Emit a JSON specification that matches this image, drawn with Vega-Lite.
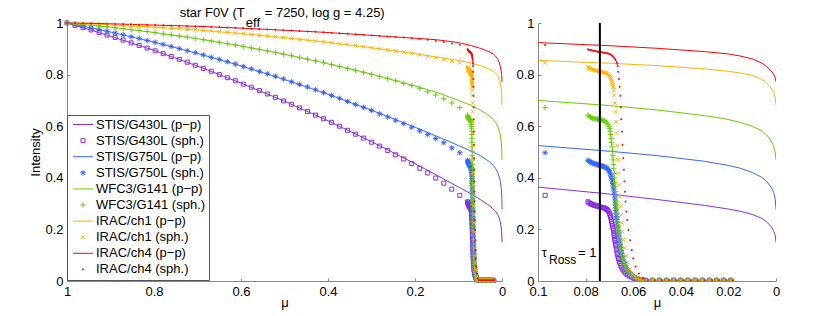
{
  "$schema": "https://vega.github.io/schema/vega-lite/v6.json",
  "background": "white",
  "padding": {"left": 29, "top": 7, "right": 5, "bottom": 5},
  "bounds": "flush",
  "spacing": 36,
  "resolve": {"scale": {"color": "independent", "shape": "independent"}},
  "config": {
    "font": "Liberation Sans",
    "view": {"stroke": null},
    "axis": {
      "domainColor": "#888888", "tickColor": "#888888", "tickSize": -3, "labelPadding": 7,
      "labelFont": "Liberation Sans", "labelFontSize": 13, "labelColor": "black",
      "titleFont": "Liberation Sans", "titleFontSize": 13, "titleFontWeight": "normal", "titleColor": "black",
      "grid": false, "labelFlush": false, "labelOverlap": false, "domainWidth": 1, "tickWidth": 1, "titlePadding": 2
    },
    "legend": {
      "symbolSize": 625, "symbolStrokeWidth": 1, "labelFont": "Liberation Sans", "labelFontSize": 13, "labelColor": "black",
      "strokeColor": "#555555", "fillColor": "white", "padding": 3, "rowPadding": 2.1, "clipHeight": 13, "labelOffset": 0, "offset": 0, "symbolOpacity": 1
    }
  },
  "datasets": {
    "pp": [
      {"s":"a","m":1,"i":1},{"s":"a","m":0.95,"i":0.975},{"s":"a","m":0.9,"i":0.949},{"s":"a","m":0.8,"i":0.894},{"s":"a","m":0.7,"i":0.833},{"s":"a","m":0.6,"i":0.767},{"s":"a","m":0.5,"i":0.697},{"s":"a","m":0.4,"i":0.621},{"s":"a","m":0.3,"i":0.54},{"s":"a","m":0.2,"i":0.455},{"s":"a","m":0.15,"i":0.41},{"s":"a","m":0.1,"i":0.364},{"s":"a","m":0.07,"i":0.337},{"s":"a","m":0.05,"i":0.316},{"s":"a","m":0.03,"i":0.293},{"s":"a","m":0.02,"i":0.279},{"s":"a","m":0.015,"i":0.27},{"s":"a","m":0.01,"i":0.258},{"s":"a","m":0.006,"i":0.243},{"s":"a","m":0.004,"i":0.23},{"s":"a","m":0.002,"i":0.21},{"s":"a","m":0.001,"i":0.195},{"s":"a","m":0.0003,"i":0.175},{"s":"a","m":0,"i":0.15},
      {"s":"c","m":1,"i":1},{"s":"c","m":0.95,"i":0.983},{"s":"c","m":0.9,"i":0.965},{"s":"c","m":0.8,"i":0.926},{"s":"c","m":0.7,"i":0.882},{"s":"c","m":0.6,"i":0.834},{"s":"c","m":0.5,"i":0.781},{"s":"c","m":0.4,"i":0.724},{"s":"c","m":0.3,"i":0.662},{"s":"c","m":0.2,"i":0.596},{"s":"c","m":0.15,"i":0.561},{"s":"c","m":0.1,"i":0.525},{"s":"c","m":0.07,"i":0.503},{"s":"c","m":0.05,"i":0.486},{"s":"c","m":0.03,"i":0.464},{"s":"c","m":0.02,"i":0.448},{"s":"c","m":0.015,"i":0.437},{"s":"c","m":0.01,"i":0.421},{"s":"c","m":0.006,"i":0.402},{"s":"c","m":0.004,"i":0.387},{"s":"c","m":0.002,"i":0.363},{"s":"c","m":0.001,"i":0.344},{"s":"c","m":0.0003,"i":0.315},{"s":"c","m":0,"i":0.277},
      {"s":"e","m":1,"i":1},{"s":"e","m":0.95,"i":0.992},{"s":"e","m":0.9,"i":0.984},{"s":"e","m":0.8,"i":0.963},{"s":"e","m":0.7,"i":0.939},{"s":"e","m":0.6,"i":0.911},{"s":"e","m":0.5,"i":0.879},{"s":"e","m":0.4,"i":0.842},{"s":"e","m":0.3,"i":0.802},{"s":"e","m":0.2,"i":0.756},{"s":"e","m":0.15,"i":0.731},{"s":"e","m":0.1,"i":0.7},{"s":"e","m":0.07,"i":0.68},{"s":"e","m":0.05,"i":0.663},{"s":"e","m":0.03,"i":0.641},{"s":"e","m":0.02,"i":0.626},{"s":"e","m":0.015,"i":0.615},{"s":"e","m":0.01,"i":0.6},{"s":"e","m":0.006,"i":0.582},{"s":"e","m":0.004,"i":0.567},{"s":"e","m":0.002,"i":0.543},{"s":"e","m":0.001,"i":0.523},{"s":"e","m":0.0003,"i":0.497},{"s":"e","m":0,"i":0.47},
      {"s":"g","m":1,"i":1},{"s":"g","m":0.95,"i":0.997},{"s":"g","m":0.9,"i":0.993},{"s":"g","m":0.8,"i":0.984},{"s":"g","m":0.7,"i":0.973},{"s":"g","m":0.6,"i":0.959},{"s":"g","m":0.5,"i":0.943},{"s":"g","m":0.4,"i":0.925},{"s":"g","m":0.3,"i":0.904},{"s":"g","m":0.2,"i":0.881},{"s":"g","m":0.15,"i":0.868},{"s":"g","m":0.1,"i":0.855},{"s":"g","m":0.07,"i":0.844},{"s":"g","m":0.05,"i":0.835},{"s":"g","m":0.03,"i":0.822},{"s":"g","m":0.02,"i":0.813},{"s":"g","m":0.015,"i":0.806},{"s":"g","m":0.01,"i":0.797},{"s":"g","m":0.006,"i":0.782},{"s":"g","m":0.004,"i":0.768},{"s":"g","m":0.002,"i":0.748},{"s":"g","m":0.001,"i":0.732},{"s":"g","m":0.0003,"i":0.71},{"s":"g","m":0,"i":0.683},
      {"s":"i","m":1,"i":1},{"s":"i","m":0.95,"i":0.999},{"s":"i","m":0.9,"i":0.997},{"s":"i","m":0.8,"i":0.992},{"s":"i","m":0.7,"i":0.987},{"s":"i","m":0.6,"i":0.98},{"s":"i","m":0.5,"i":0.972},{"s":"i","m":0.4,"i":0.963},{"s":"i","m":0.3,"i":0.952},{"s":"i","m":0.2,"i":0.941},{"s":"i","m":0.15,"i":0.935},{"s":"i","m":0.1,"i":0.924},{"s":"i","m":0.07,"i":0.912},{"s":"i","m":0.05,"i":0.902},{"s":"i","m":0.03,"i":0.889},{"s":"i","m":0.02,"i":0.88},{"s":"i","m":0.015,"i":0.872},{"s":"i","m":0.01,"i":0.861},{"s":"i","m":0.006,"i":0.845},{"s":"i","m":0.004,"i":0.832},{"s":"i","m":0.002,"i":0.814},{"s":"i","m":0.001,"i":0.801},{"s":"i","m":0.0003,"i":0.787},{"s":"i","m":0,"i":0.772}
    ],
    "sph": [
      {"s":"b","m":1,"i":1},{"s":"b","m":0.9816,"i":0.991},{"s":"b","m":0.9631,"i":0.982},{"s":"b","m":0.9447,"i":0.973},{"s":"b","m":0.9263,"i":0.963},{"s":"b","m":0.9079,"i":0.953},{"s":"b","m":0.8894,"i":0.944},{"s":"b","m":0.871,"i":0.934},{"s":"b","m":0.8526,"i":0.923},{"s":"b","m":0.8341,"i":0.913},{"s":"b","m":0.8157,"i":0.903},{"s":"b","m":0.7973,"i":0.892},{"s":"b","m":0.7789,"i":0.881},{"s":"b","m":0.7604,"i":0.87},{"s":"b","m":0.742,"i":0.859},{"s":"b","m":0.7236,"i":0.848},{"s":"b","m":0.7051,"i":0.836},{"s":"b","m":0.6867,"i":0.824},{"s":"b","m":0.6683,"i":0.813},{"s":"b","m":0.6498,"i":0.8},{"s":"b","m":0.6314,"i":0.788},{"s":"b","m":0.613,"i":0.776},{"s":"b","m":0.5946,"i":0.763},{"s":"b","m":0.5761,"i":0.751},{"s":"b","m":0.5577,"i":0.738},{"s":"b","m":0.5393,"i":0.725},{"s":"b","m":0.5208,"i":0.712},{"s":"b","m":0.5024,"i":0.698},{"s":"b","m":0.484,"i":0.685},{"s":"b","m":0.4656,"i":0.671},{"s":"b","m":0.4471,"i":0.657},{"s":"b","m":0.4287,"i":0.643},{"s":"b","m":0.4103,"i":0.629},{"s":"b","m":0.3918,"i":0.615},{"s":"b","m":0.3734,"i":0.6},{"s":"b","m":0.355,"i":0.584},{"s":"b","m":0.3366,"i":0.569},{"s":"b","m":0.3181,"i":0.554},{"s":"b","m":0.2997,"i":0.538},{"s":"b","m":0.2813,"i":0.523},{"s":"b","m":0.2628,"i":0.506},{"s":"b","m":0.2444,"i":0.489},{"s":"b","m":0.226,"i":0.473},{"s":"b","m":0.2075,"i":0.455},{"s":"b","m":0.1891,"i":0.437},{"s":"b","m":0.1707,"i":0.419},{"s":"b","m":0.1523,"i":0.399},{"s":"b","m":0.1338,"i":0.379},{"s":"b","m":0.1154,"i":0.356},{"s":"b","m":0.097,"i":0.332},
      {"s":"b","m":0.079,"i":0.307},{"s":"b","m":0.0785,"i":0.303},{"s":"b","m":0.078,"i":0.3},{"s":"b","m":0.0775,"i":0.298},{"s":"b","m":0.077,"i":0.296},{"s":"b","m":0.0765,"i":0.294},{"s":"b","m":0.076,"i":0.293},{"s":"b","m":0.0755,"i":0.291},{"s":"b","m":0.075,"i":0.29},{"s":"b","m":0.0745,"i":0.289},{"s":"b","m":0.074,"i":0.287},{"s":"b","m":0.0735,"i":0.286},{"s":"b","m":0.073,"i":0.285},{"s":"b","m":0.0725,"i":0.284},{"s":"b","m":0.072,"i":0.282},{"s":"b","m":0.0715,"i":0.28},{"s":"b","m":0.071,"i":0.277},{"s":"b","m":0.0706,"i":0.273},{"s":"b","m":0.0702,"i":0.268},{"s":"b","m":0.0699,"i":0.262},{"s":"b","m":0.0697,"i":0.255},{"s":"b","m":0.0695,"i":0.248},{"s":"b","m":0.0693,"i":0.24},{"s":"b","m":0.0691,"i":0.231},{"s":"b","m":0.0689,"i":0.222},{"s":"b","m":0.0687,"i":0.213},{"s":"b","m":0.0685,"i":0.204},{"s":"b","m":0.0683,"i":0.195},{"s":"b","m":0.0681,"i":0.185},{"s":"b","m":0.068,"i":0.176},{"s":"b","m":0.0678,"i":0.166},{"s":"b","m":0.0677,"i":0.157},{"s":"b","m":0.0675,"i":0.147},{"s":"b","m":0.0673,"i":0.137},{"s":"b","m":0.0671,"i":0.127},{"s":"b","m":0.0669,"i":0.117},{"s":"b","m":0.0667,"i":0.107},{"s":"b","m":0.0665,"i":0.097},{"s":"b","m":0.0662,"i":0.087},{"s":"b","m":0.0659,"i":0.077},{"s":"b","m":0.0656,"i":0.068},{"s":"b","m":0.0652,"i":0.059},{"s":"b","m":0.0648,"i":0.051},{"s":"b","m":0.0643,"i":0.043},{"s":"b","m":0.0637,"i":0.036},{"s":"b","m":0.0631,"i":0.03},{"s":"b","m":0.0624,"i":0.024},{"s":"b","m":0.0616,"i":0.019},{"s":"b","m":0.0607,"i":0.015},{"s":"b","m":0.0597,"i":0.011},{"s":"b","m":0.0586,"i":0.008},{"s":"b","m":0.0574,"i":0.006},{"s":"b","m":0.0561,"i":0.004},{"s":"b","m":0.0547,"i":0.003},
      {"s":"b","m":0.052,"i":0.003},{"s":"b","m":0.049,"i":0.003},{"s":"b","m":0.046,"i":0.003},{"s":"b","m":0.043,"i":0.003},{"s":"b","m":0.04,"i":0.003},{"s":"b","m":0.037,"i":0.003},{"s":"b","m":0.034,"i":0.003},{"s":"b","m":0.031,"i":0.003},{"s":"b","m":0.028,"i":0.003},{"s":"b","m":0.025,"i":0.003},{"s":"b","m":0.022,"i":0.003},{"s":"b","m":0.019,"i":0.003},
      {"s":"d","m":1,"i":1},{"s":"d","m":0.9816,"i":0.994},{"s":"d","m":0.9631,"i":0.988},{"s":"d","m":0.9447,"i":0.981},{"s":"d","m":0.9263,"i":0.975},{"s":"d","m":0.9079,"i":0.968},{"s":"d","m":0.8894,"i":0.961},{"s":"d","m":0.871,"i":0.954},{"s":"d","m":0.8526,"i":0.947},{"s":"d","m":0.8341,"i":0.94},{"s":"d","m":0.8157,"i":0.932},{"s":"d","m":0.7973,"i":0.925},{"s":"d","m":0.7789,"i":0.917},{"s":"d","m":0.7604,"i":0.909},{"s":"d","m":0.742,"i":0.901},{"s":"d","m":0.7236,"i":0.893},{"s":"d","m":0.7051,"i":0.885},{"s":"d","m":0.6867,"i":0.876},{"s":"d","m":0.6683,"i":0.867},{"s":"d","m":0.6498,"i":0.859},{"s":"d","m":0.6314,"i":0.85},{"s":"d","m":0.613,"i":0.841},{"s":"d","m":0.5946,"i":0.831},{"s":"d","m":0.5761,"i":0.822},{"s":"d","m":0.5577,"i":0.812},{"s":"d","m":0.5393,"i":0.803},{"s":"d","m":0.5208,"i":0.793},{"s":"d","m":0.5024,"i":0.783},{"s":"d","m":0.484,"i":0.772},{"s":"d","m":0.4656,"i":0.762},{"s":"d","m":0.4471,"i":0.752},{"s":"d","m":0.4287,"i":0.741},{"s":"d","m":0.4103,"i":0.73},{"s":"d","m":0.3918,"i":0.719},{"s":"d","m":0.3734,"i":0.708},{"s":"d","m":0.355,"i":0.696},{"s":"d","m":0.3366,"i":0.684},{"s":"d","m":0.3181,"i":0.673},{"s":"d","m":0.2997,"i":0.661},{"s":"d","m":0.2813,"i":0.648},{"s":"d","m":0.2628,"i":0.636},{"s":"d","m":0.2444,"i":0.623},{"s":"d","m":0.226,"i":0.61},{"s":"d","m":0.2075,"i":0.596},{"s":"d","m":0.1891,"i":0.582},{"s":"d","m":0.1707,"i":0.568},{"s":"d","m":0.1523,"i":0.552},{"s":"d","m":0.1338,"i":0.536},{"s":"d","m":0.1154,"i":0.516},{"s":"d","m":0.097,"i":0.497},
      {"s":"d","m":0.079,"i":0.468},{"s":"d","m":0.0785,"i":0.464},{"s":"d","m":0.078,"i":0.461},{"s":"d","m":0.0775,"i":0.459},{"s":"d","m":0.077,"i":0.457},{"s":"d","m":0.0765,"i":0.455},{"s":"d","m":0.076,"i":0.454},{"s":"d","m":0.0755,"i":0.452},{"s":"d","m":0.075,"i":0.451},{"s":"d","m":0.0745,"i":0.449},{"s":"d","m":0.074,"i":0.448},{"s":"d","m":0.0735,"i":0.447},{"s":"d","m":0.073,"i":0.445},{"s":"d","m":0.0725,"i":0.444},{"s":"d","m":0.072,"i":0.442},{"s":"d","m":0.0715,"i":0.44},{"s":"d","m":0.071,"i":0.437},{"s":"d","m":0.0706,"i":0.433},{"s":"d","m":0.0702,"i":0.428},{"s":"d","m":0.0699,"i":0.422},{"s":"d","m":0.0696,"i":0.415},{"s":"d","m":0.0693,"i":0.406},{"s":"d","m":0.069,"i":0.397},{"s":"d","m":0.0688,"i":0.388},{"s":"d","m":0.0686,"i":0.378},{"s":"d","m":0.0684,"i":0.368},{"s":"d","m":0.0682,"i":0.357},{"s":"d","m":0.068,"i":0.346},{"s":"d","m":0.0678,"i":0.334},{"s":"d","m":0.0677,"i":0.322},{"s":"d","m":0.0676,"i":0.31},{"s":"d","m":0.0675,"i":0.298},{"s":"d","m":0.0674,"i":0.286},{"s":"d","m":0.0673,"i":0.274},{"s":"d","m":0.0672,"i":0.262},{"s":"d","m":0.067,"i":0.25},{"s":"d","m":0.0669,"i":0.238},{"s":"d","m":0.0667,"i":0.226},{"s":"d","m":0.0666,"i":0.214},{"s":"d","m":0.0664,"i":0.202},{"s":"d","m":0.0662,"i":0.19},{"s":"d","m":0.0661,"i":0.178},{"s":"d","m":0.0659,"i":0.166},{"s":"d","m":0.0657,"i":0.154},{"s":"d","m":0.0655,"i":0.142},{"s":"d","m":0.0653,"i":0.13},{"s":"d","m":0.0651,"i":0.118},{"s":"d","m":0.0648,"i":0.106},{"s":"d","m":0.0645,"i":0.094},{"s":"d","m":0.0642,"i":0.082},{"s":"d","m":0.0638,"i":0.071},{"s":"d","m":0.0634,"i":0.061},{"s":"d","m":0.0629,"i":0.052},{"s":"d","m":0.0623,"i":0.043},{"s":"d","m":0.0617,"i":0.035},{"s":"d","m":0.061,"i":0.028},{"s":"d","m":0.0602,"i":0.021},{"s":"d","m":0.0594,"i":0.016},{"s":"d","m":0.0585,"i":0.011},{"s":"d","m":0.0575,"i":0.007},{"s":"d","m":0.0564,"i":0.005},{"s":"d","m":0.0552,"i":0.003},
      {"s":"d","m":0.052,"i":0.003},{"s":"d","m":0.049,"i":0.003},{"s":"d","m":0.046,"i":0.003},{"s":"d","m":0.043,"i":0.003},{"s":"d","m":0.04,"i":0.003},{"s":"d","m":0.037,"i":0.003},{"s":"d","m":0.034,"i":0.003},{"s":"d","m":0.031,"i":0.003},{"s":"d","m":0.028,"i":0.003},{"s":"d","m":0.025,"i":0.003},{"s":"d","m":0.022,"i":0.003},{"s":"d","m":0.019,"i":0.003},
      {"s":"f","m":1,"i":1},{"s":"f","m":0.9816,"i":0.997},{"s":"f","m":0.9631,"i":0.994},{"s":"f","m":0.9447,"i":0.991},{"s":"f","m":0.9263,"i":0.988},{"s":"f","m":0.9079,"i":0.985},{"s":"f","m":0.8894,"i":0.982},{"s":"f","m":0.871,"i":0.978},{"s":"f","m":0.8526,"i":0.974},{"s":"f","m":0.8341,"i":0.971},{"s":"f","m":0.8157,"i":0.967},{"s":"f","m":0.7973,"i":0.963},{"s":"f","m":0.7789,"i":0.958},{"s":"f","m":0.7604,"i":0.954},{"s":"f","m":0.742,"i":0.95},{"s":"f","m":0.7236,"i":0.945},{"s":"f","m":0.7051,"i":0.94},{"s":"f","m":0.6867,"i":0.935},{"s":"f","m":0.6683,"i":0.93},{"s":"f","m":0.6498,"i":0.925},{"s":"f","m":0.6314,"i":0.92},{"s":"f","m":0.613,"i":0.915},{"s":"f","m":0.5946,"i":0.909},{"s":"f","m":0.5761,"i":0.903},{"s":"f","m":0.5577,"i":0.898},{"s":"f","m":0.5393,"i":0.892},{"s":"f","m":0.5208,"i":0.886},{"s":"f","m":0.5024,"i":0.879},{"s":"f","m":0.484,"i":0.873},{"s":"f","m":0.4656,"i":0.867},{"s":"f","m":0.4471,"i":0.86},{"s":"f","m":0.4287,"i":0.853},{"s":"f","m":0.4103,"i":0.846},{"s":"f","m":0.3918,"i":0.839},{"s":"f","m":0.3734,"i":0.832},{"s":"f","m":0.355,"i":0.824},{"s":"f","m":0.3366,"i":0.817},{"s":"f","m":0.3181,"i":0.809},{"s":"f","m":0.2997,"i":0.801},{"s":"f","m":0.2813,"i":0.793},{"s":"f","m":0.2628,"i":0.785},{"s":"f","m":0.2444,"i":0.776},{"s":"f","m":0.226,"i":0.766},{"s":"f","m":0.2075,"i":0.757},{"s":"f","m":0.1891,"i":0.747},{"s":"f","m":0.1707,"i":0.733},{"s":"f","m":0.1523,"i":0.721},{"s":"f","m":0.1338,"i":0.706},{"s":"f","m":0.1154,"i":0.69},{"s":"f","m":0.097,"i":0.672},
      {"s":"f","m":0.079,"i":0.643},{"s":"f","m":0.0785,"i":0.638},{"s":"f","m":0.078,"i":0.635},{"s":"f","m":0.0775,"i":0.633},{"s":"f","m":0.077,"i":0.631},{"s":"f","m":0.0765,"i":0.63},{"s":"f","m":0.076,"i":0.629},{"s":"f","m":0.0755,"i":0.628},{"s":"f","m":0.075,"i":0.627},{"s":"f","m":0.0745,"i":0.626},{"s":"f","m":0.074,"i":0.625},{"s":"f","m":0.0735,"i":0.624},{"s":"f","m":0.073,"i":0.623},{"s":"f","m":0.0725,"i":0.622},{"s":"f","m":0.072,"i":0.62},{"s":"f","m":0.0715,"i":0.617},{"s":"f","m":0.071,"i":0.613},{"s":"f","m":0.0706,"i":0.607},{"s":"f","m":0.0702,"i":0.599},{"s":"f","m":0.0699,"i":0.59},{"s":"f","m":0.0697,"i":0.58},{"s":"f","m":0.0695,"i":0.568},{"s":"f","m":0.0693,"i":0.553},{"s":"f","m":0.0691,"i":0.537},{"s":"f","m":0.0689,"i":0.52},{"s":"f","m":0.0687,"i":0.503},{"s":"f","m":0.0686,"i":0.486},{"s":"f","m":0.0684,"i":0.469},{"s":"f","m":0.0683,"i":0.452},{"s":"f","m":0.0682,"i":0.435},{"s":"f","m":0.068,"i":0.417},{"s":"f","m":0.0679,"i":0.4},{"s":"f","m":0.0678,"i":0.382},{"s":"f","m":0.0676,"i":0.365},{"s":"f","m":0.0675,"i":0.347},{"s":"f","m":0.0674,"i":0.33},{"s":"f","m":0.0673,"i":0.313},{"s":"f","m":0.0671,"i":0.296},{"s":"f","m":0.067,"i":0.279},{"s":"f","m":0.0668,"i":0.262},{"s":"f","m":0.0667,"i":0.245},{"s":"f","m":0.0665,"i":0.228},{"s":"f","m":0.0664,"i":0.211},{"s":"f","m":0.0662,"i":0.194},{"s":"f","m":0.066,"i":0.177},{"s":"f","m":0.0658,"i":0.16},{"s":"f","m":0.0656,"i":0.144},{"s":"f","m":0.0654,"i":0.128},{"s":"f","m":0.0651,"i":0.113},{"s":"f","m":0.0648,"i":0.099},{"s":"f","m":0.0645,"i":0.086},{"s":"f","m":0.0641,"i":0.074},{"s":"f","m":0.0637,"i":0.063},{"s":"f","m":0.0632,"i":0.053},{"s":"f","m":0.0627,"i":0.044},{"s":"f","m":0.0621,"i":0.036},{"s":"f","m":0.0614,"i":0.029},{"s":"f","m":0.0606,"i":0.022},{"s":"f","m":0.0598,"i":0.016},{"s":"f","m":0.0589,"i":0.011},{"s":"f","m":0.0579,"i":0.007},{"s":"f","m":0.0568,"i":0.004},{"s":"f","m":0.0556,"i":0.003},
      {"s":"f","m":0.052,"i":0.003},{"s":"f","m":0.049,"i":0.003},{"s":"f","m":0.046,"i":0.003},{"s":"f","m":0.043,"i":0.003},{"s":"f","m":0.04,"i":0.003},{"s":"f","m":0.037,"i":0.003},{"s":"f","m":0.034,"i":0.003},{"s":"f","m":0.031,"i":0.003},{"s":"f","m":0.028,"i":0.003},{"s":"f","m":0.025,"i":0.003},{"s":"f","m":0.022,"i":0.003},{"s":"f","m":0.019,"i":0.003},
      {"s":"h","m":1,"i":1},{"s":"h","m":0.9816,"i":0.999},{"s":"h","m":0.9631,"i":0.998},{"s":"h","m":0.9447,"i":0.997},{"s":"h","m":0.9263,"i":0.995},{"s":"h","m":0.9079,"i":0.994},{"s":"h","m":0.8894,"i":0.993},{"s":"h","m":0.871,"i":0.991},{"s":"h","m":0.8526,"i":0.989},{"s":"h","m":0.8341,"i":0.988},{"s":"h","m":0.8157,"i":0.986},{"s":"h","m":0.7973,"i":0.984},{"s":"h","m":0.7789,"i":0.982},{"s":"h","m":0.7604,"i":0.98},{"s":"h","m":0.742,"i":0.978},{"s":"h","m":0.7236,"i":0.976},{"s":"h","m":0.7051,"i":0.974},{"s":"h","m":0.6867,"i":0.971},{"s":"h","m":0.6683,"i":0.969},{"s":"h","m":0.6498,"i":0.966},{"s":"h","m":0.6314,"i":0.964},{"s":"h","m":0.613,"i":0.961},{"s":"h","m":0.5946,"i":0.959},{"s":"h","m":0.5761,"i":0.956},{"s":"h","m":0.5577,"i":0.953},{"s":"h","m":0.5393,"i":0.95},{"s":"h","m":0.5208,"i":0.947},{"s":"h","m":0.5024,"i":0.944},{"s":"h","m":0.484,"i":0.94},{"s":"h","m":0.4656,"i":0.937},{"s":"h","m":0.4471,"i":0.934},{"s":"h","m":0.4287,"i":0.93},{"s":"h","m":0.4103,"i":0.927},{"s":"h","m":0.3918,"i":0.923},{"s":"h","m":0.3734,"i":0.919},{"s":"h","m":0.355,"i":0.916},{"s":"h","m":0.3366,"i":0.912},{"s":"h","m":0.3181,"i":0.908},{"s":"h","m":0.2997,"i":0.904},{"s":"h","m":0.2813,"i":0.9},{"s":"h","m":0.2628,"i":0.896},{"s":"h","m":0.2444,"i":0.891},{"s":"h","m":0.226,"i":0.887},{"s":"h","m":0.2075,"i":0.882},{"s":"h","m":0.1891,"i":0.877},{"s":"h","m":0.1707,"i":0.871},{"s":"h","m":0.1523,"i":0.865},{"s":"h","m":0.1338,"i":0.859},{"s":"h","m":0.1154,"i":0.852},{"s":"h","m":0.097,"i":0.846},
      {"s":"h","m":0.079,"i":0.83},{"s":"h","m":0.0785,"i":0.826},{"s":"h","m":0.078,"i":0.823},{"s":"h","m":0.0775,"i":0.821},{"s":"h","m":0.077,"i":0.819},{"s":"h","m":0.0765,"i":0.818},{"s":"h","m":0.076,"i":0.817},{"s":"h","m":0.0755,"i":0.815},{"s":"h","m":0.075,"i":0.814},{"s":"h","m":0.0745,"i":0.813},{"s":"h","m":0.074,"i":0.812},{"s":"h","m":0.0735,"i":0.811},{"s":"h","m":0.073,"i":0.81},{"s":"h","m":0.0725,"i":0.809},{"s":"h","m":0.072,"i":0.808},{"s":"h","m":0.0715,"i":0.806},{"s":"h","m":0.071,"i":0.804},{"s":"h","m":0.0706,"i":0.801},{"s":"h","m":0.0702,"i":0.797},{"s":"h","m":0.0699,"i":0.793},{"s":"h","m":0.0696,"i":0.788},{"s":"h","m":0.0693,"i":0.782},{"s":"h","m":0.069,"i":0.775},{"s":"h","m":0.0688,"i":0.768},{"s":"h","m":0.0686,"i":0.76},{"s":"h","m":0.0684,"i":0.752},{"s":"h","m":0.0682,"i":0.74},{"s":"h","m":0.068,"i":0.72},{"s":"h","m":0.0677,"i":0.69},{"s":"h","m":0.0674,"i":0.656},{"s":"h","m":0.0672,"i":0.617},{"s":"h","m":0.067,"i":0.574},{"s":"h","m":0.0668,"i":0.525},{"s":"h","m":0.0665,"i":0.47},{"s":"h","m":0.0662,"i":0.418},{"s":"h","m":0.0659,"i":0.373},{"s":"h","m":0.0656,"i":0.328},{"s":"h","m":0.0653,"i":0.29},{"s":"h","m":0.065,"i":0.257},{"s":"h","m":0.0648,"i":0.225},{"s":"h","m":0.0645,"i":0.192},{"s":"h","m":0.0641,"i":0.16},{"s":"h","m":0.0636,"i":0.128},{"s":"h","m":0.063,"i":0.097},{"s":"h","m":0.0623,"i":0.071},{"s":"h","m":0.0614,"i":0.045},{"s":"h","m":0.0602,"i":0.026},{"s":"h","m":0.0588,"i":0.013},{"s":"h","m":0.0574,"i":0.006},{"s":"h","m":0.056,"i":0.003},
      {"s":"h","m":0.052,"i":0.003},{"s":"h","m":0.049,"i":0.003},{"s":"h","m":0.046,"i":0.003},{"s":"h","m":0.043,"i":0.003},{"s":"h","m":0.04,"i":0.003},{"s":"h","m":0.037,"i":0.003},{"s":"h","m":0.034,"i":0.003},{"s":"h","m":0.031,"i":0.003},{"s":"h","m":0.028,"i":0.003},{"s":"h","m":0.025,"i":0.003},{"s":"h","m":0.022,"i":0.003},{"s":"h","m":0.019,"i":0.003},
      {"s":"j","m":1,"i":1},{"s":"j","m":0.9816,"i":1},{"s":"j","m":0.9631,"i":0.999},{"s":"j","m":0.9447,"i":0.998},{"s":"j","m":0.9263,"i":0.998},{"s":"j","m":0.9079,"i":0.997},{"s":"j","m":0.8894,"i":0.996},{"s":"j","m":0.871,"i":0.996},{"s":"j","m":0.8526,"i":0.995},{"s":"j","m":0.8341,"i":0.994},{"s":"j","m":0.8157,"i":0.993},{"s":"j","m":0.7973,"i":0.992},{"s":"j","m":0.7789,"i":0.991},{"s":"j","m":0.7604,"i":0.99},{"s":"j","m":0.742,"i":0.989},{"s":"j","m":0.7236,"i":0.988},{"s":"j","m":0.7051,"i":0.987},{"s":"j","m":0.6867,"i":0.986},{"s":"j","m":0.6683,"i":0.985},{"s":"j","m":0.6498,"i":0.984},{"s":"j","m":0.6314,"i":0.982},{"s":"j","m":0.613,"i":0.981},{"s":"j","m":0.5946,"i":0.98},{"s":"j","m":0.5761,"i":0.978},{"s":"j","m":0.5577,"i":0.977},{"s":"j","m":0.5393,"i":0.975},{"s":"j","m":0.5208,"i":0.974},{"s":"j","m":0.5024,"i":0.972},{"s":"j","m":0.484,"i":0.971},{"s":"j","m":0.4656,"i":0.969},{"s":"j","m":0.4471,"i":0.967},{"s":"j","m":0.4287,"i":0.966},{"s":"j","m":0.4103,"i":0.964},{"s":"j","m":0.3918,"i":0.962},{"s":"j","m":0.3734,"i":0.96},{"s":"j","m":0.355,"i":0.958},{"s":"j","m":0.3366,"i":0.956},{"s":"j","m":0.3181,"i":0.954},{"s":"j","m":0.2997,"i":0.952},{"s":"j","m":0.2813,"i":0.95},{"s":"j","m":0.2628,"i":0.948},{"s":"j","m":0.2444,"i":0.946},{"s":"j","m":0.226,"i":0.944},{"s":"j","m":0.2075,"i":0.941},{"s":"j","m":0.1891,"i":0.938},{"s":"j","m":0.1707,"i":0.935},{"s":"j","m":0.1523,"i":0.931},{"s":"j","m":0.1338,"i":0.926},{"s":"j","m":0.1154,"i":0.921},{"s":"j","m":0.097,"i":0.915},
      {"s":"j","m":0.079,"i":0.898},{"s":"j","m":0.0785,"i":0.896},{"s":"j","m":0.078,"i":0.895},{"s":"j","m":0.0775,"i":0.894},{"s":"j","m":0.077,"i":0.893},{"s":"j","m":0.0765,"i":0.892},{"s":"j","m":0.076,"i":0.891},{"s":"j","m":0.0755,"i":0.89},{"s":"j","m":0.075,"i":0.889},{"s":"j","m":0.0745,"i":0.888},{"s":"j","m":0.074,"i":0.888},{"s":"j","m":0.0735,"i":0.887},{"s":"j","m":0.073,"i":0.886},{"s":"j","m":0.0725,"i":0.885},{"s":"j","m":0.072,"i":0.885},{"s":"j","m":0.0715,"i":0.884},{"s":"j","m":0.071,"i":0.883},{"s":"j","m":0.0705,"i":0.882},{"s":"j","m":0.07,"i":0.88},{"s":"j","m":0.0695,"i":0.878},{"s":"j","m":0.069,"i":0.875},{"s":"j","m":0.0686,"i":0.871},{"s":"j","m":0.0682,"i":0.867},{"s":"j","m":0.0678,"i":0.862},{"s":"j","m":0.0674,"i":0.857},{"s":"j","m":0.067,"i":0.849},{"s":"j","m":0.0667,"i":0.842},{"s":"j","m":0.0665,"i":0.833},{"s":"j","m":0.0663,"i":0.811},{"s":"j","m":0.066,"i":0.783},{"s":"j","m":0.0657,"i":0.753},{"s":"j","m":0.0654,"i":0.718},{"s":"j","m":0.0652,"i":0.673},{"s":"j","m":0.065,"i":0.627},{"s":"j","m":0.0647,"i":0.579},{"s":"j","m":0.0645,"i":0.528},{"s":"j","m":0.0642,"i":0.476},{"s":"j","m":0.0639,"i":0.431},{"s":"j","m":0.0637,"i":0.386},{"s":"j","m":0.0634,"i":0.346},{"s":"j","m":0.0632,"i":0.308},{"s":"j","m":0.0629,"i":0.269},{"s":"j","m":0.0625,"i":0.236},{"s":"j","m":0.062,"i":0.198},{"s":"j","m":0.0613,"i":0.158},{"s":"j","m":0.0606,"i":0.12},{"s":"j","m":0.06,"i":0.088},{"s":"j","m":0.059,"i":0.056},{"s":"j","m":0.0576,"i":0.029},{"s":"j","m":0.0558,"i":0.01},{"s":"j","m":0.0537,"i":0.003},
      {"s":"j","m":0.0507,"i":0.003},{"s":"j","m":0.0477,"i":0.003},{"s":"j","m":0.0447,"i":0.003},{"s":"j","m":0.0417,"i":0.003},{"s":"j","m":0.0387,"i":0.003},{"s":"j","m":0.0357,"i":0.003},{"s":"j","m":0.0327,"i":0.003},{"s":"j","m":0.0297,"i":0.003},{"s":"j","m":0.0267,"i":0.003},{"s":"j","m":0.0237,"i":0.003},{"s":"j","m":0.0207,"i":0.003},{"s":"j","m":0.018,"i":0.003}
    ]
  },
  "hconcat": [
    {
      "width": 435,
      "height": 258,
      "layer": [
        {
          "data": {"name": "pp"},
          "mark": {"type": "line", "strokeWidth": 1},
          "encoding": {
            "x": {"field": "m", "type": "quantitative", "scale": {"domain": [0, 1], "reverse": true}, "axis": {"values": [0, 0.2, 0.4, 0.6, 0.8, 1], "format": "~g", "title": "μ", "titlePadding": -2}},
            "y": {"field": "i", "type": "quantitative", "scale": {"domain": [0, 1]}, "axis": {"values": [0, 0.2, 0.4, 0.6, 0.8, 1], "format": "~g", "title": "Intensity"}},
            "color": {"field": "s", "type": "nominal", "scale": {"domain": ["a","b","c","d","e","f","g","h","i","j"], "range": ["#8a2be2","#8a2be2","#3366ff","#3366ff","#66cc00","#66cc00","#ffb000","#ffb000","#ff0000","#ff0000"]},
              "legend": {"orient": "none", "legendX": 0, "legendY": 92, "title": null, "labelExpr": "['STIS/G430L (p−p)','STIS/G430L (sph.)','STIS/G750L (p−p)','STIS/G750L (sph.)','WFC3/G141 (p−p)','WFC3/G141 (sph.)','IRAC/ch1 (p−p)','IRAC/ch1 (sph.)','IRAC/ch4 (p−p)','IRAC/ch4 (sph.)'][indexof(['a','b','c','d','e','f','g','h','i','j'], datum.value)]"}}
          }
        },
        {
          "data": {"name": "sph"},
          "mark": {"type": "point", "filled": false, "size": 625, "strokeWidth": 1, "opacity": 1},
          "encoding": {
            "x": {"field": "m", "type": "quantitative"},
            "y": {"field": "i", "type": "quantitative"},
            "color": {"field": "s", "type": "nominal", "scale": {"domain": ["a","b","c","d","e","f","g","h","i","j"], "range": ["#8a2be2","#8a2be2","#3366ff","#3366ff","#66cc00","#66cc00","#ffb000","#ffb000","#ff0000","#ff0000"]},
              "legend": {"orient": "none", "legendX": 0, "legendY": 92, "title": null, "labelExpr": "['STIS/G430L (p−p)','STIS/G430L (sph.)','STIS/G750L (p−p)','STIS/G750L (sph.)','WFC3/G141 (p−p)','WFC3/G141 (sph.)','IRAC/ch1 (p−p)','IRAC/ch1 (sph.)','IRAC/ch4 (p−p)','IRAC/ch4 (sph.)'][indexof(['a','b','c','d','e','f','g','h','i','j'], datum.value)]"}},
            "shape": {"field": "s", "type": "nominal", "scale": {"domain": ["a","b","c","d","e","f","g","h","i","j"], "range": ["M-0.8,0H0.8","M-0.16,-0.16H0.16V0.16H-0.16Z","M-0.8,0H0.8","M-0.22,0H0.22M0,-0.22V0.22M-0.16,-0.16L0.16,0.16M-0.16,0.16L0.16,-0.16","M-0.8,0H0.8","M-0.22,0H0.22M0,-0.22V0.22","M-0.8,0H0.8","M-0.15,-0.15L0.15,0.15M-0.15,0.15L0.15,-0.15","M-0.8,0H0.8","M-0.04,-0.04H0.04V0.04H-0.04Z"]},
              "legend": {"orient": "none", "legendX": 0, "legendY": 92, "title": null, "labelExpr": "['STIS/G430L (p−p)','STIS/G430L (sph.)','STIS/G750L (p−p)','STIS/G750L (sph.)','WFC3/G141 (p−p)','WFC3/G141 (sph.)','IRAC/ch1 (p−p)','IRAC/ch1 (sph.)','IRAC/ch4 (p−p)','IRAC/ch4 (sph.)'][indexof(['a','b','c','d','e','f','g','h','i','j'], datum.value)]"}}
          }
        },
        {
          "data": {"values": [{}]},
          "mark": {"type": "text", "text": "star F0V (T", "align": "left", "baseline": "alphabetic", "fontSize": 13, "font": "Liberation Sans", "color": "black"},
          "encoding": {"x": {"datum": 0.741}, "y": {"datum": 1.022}}
        },
        {
          "data": {"values": [{}]},
          "mark": {"type": "text", "text": "eff", "align": "left", "baseline": "alphabetic", "fontSize": 13, "font": "Liberation Sans", "color": "black"},
          "encoding": {"x": {"datum": 0.589}, "y": {"datum": 0.986}}
        },
        {
          "data": {"values": [{}]},
          "mark": {"type": "text", "text": "= 7250, log g = 4.25)", "align": "left", "baseline": "alphabetic", "fontSize": 13, "font": "Liberation Sans", "color": "black"},
          "encoding": {"x": {"datum": 0.5455}, "y": {"datum": 1.022}}
        }
      ]
    },
    {
      "width": 238,
      "height": 258,
      "layer": [
        {
          "data": {"name": "pp"},
          "mark": {"type": "line", "strokeWidth": 1, "clip": true},
          "encoding": {
            "x": {"field": "m", "type": "quantitative", "scale": {"domain": [0, 0.1], "reverse": true}, "axis": {"values": [0, 0.02, 0.04, 0.06, 0.08, 0.1], "format": "~g", "title": "μ", "titlePadding": -2}},
            "y": {"field": "i", "type": "quantitative", "scale": {"domain": [0, 1]}, "axis": {"values": [0, 0.2, 0.4, 0.6, 0.8, 1], "format": "~g", "title": null}},
            "color": {"field": "s", "type": "nominal", "scale": {"domain": ["a","b","c","d","e","f","g","h","i","j"], "range": ["#8a2be2","#8a2be2","#3366ff","#3366ff","#66cc00","#66cc00","#ffb000","#ffb000","#ff0000","#ff0000"]}, "legend": null}
          }
        },
        {
          "data": {"name": "sph"},
          "mark": {"type": "point", "filled": false, "size": 625, "strokeWidth": 1, "opacity": 1, "clip": true},
          "encoding": {
            "x": {"field": "m", "type": "quantitative"},
            "y": {"field": "i", "type": "quantitative"},
            "color": {"field": "s", "type": "nominal", "scale": {"domain": ["a","b","c","d","e","f","g","h","i","j"], "range": ["#8a2be2","#8a2be2","#3366ff","#3366ff","#66cc00","#66cc00","#ffb000","#ffb000","#ff0000","#ff0000"]}, "legend": null},
            "shape": {"field": "s", "type": "nominal", "scale": {"domain": ["a","b","c","d","e","f","g","h","i","j"], "range": ["M-0.8,0H0.8","M-0.16,-0.16H0.16V0.16H-0.16Z","M-0.8,0H0.8","M-0.22,0H0.22M0,-0.22V0.22M-0.16,-0.16L0.16,0.16M-0.16,0.16L0.16,-0.16","M-0.8,0H0.8","M-0.22,0H0.22M0,-0.22V0.22","M-0.8,0H0.8","M-0.15,-0.15L0.15,0.15M-0.15,0.15L0.15,-0.15","M-0.8,0H0.8","M-0.04,-0.04H0.04V0.04H-0.04Z"]}, "legend": null}
          }
        },
        {
          "data": {"values": [{}]},
          "mark": {"type": "rule", "color": "black", "strokeWidth": 2},
          "encoding": {"x": {"datum": 0.074}}
        },
        {
          "data": {"values": [{}]},
          "mark": {"type": "text", "text": "τ", "align": "left", "baseline": "alphabetic", "fontSize": 13, "font": "Liberation Sans", "color": "black"},
          "encoding": {"x": {"datum": 0.09845}, "y": {"datum": 0.0919}}
        },
        {
          "data": {"values": [{}]},
          "mark": {"type": "text", "text": "Ross", "align": "left", "baseline": "alphabetic", "fontSize": 12, "font": "Liberation Sans", "color": "black"},
          "encoding": {"x": {"datum": 0.09538}, "y": {"datum": 0.0659}}
        },
        {
          "data": {"values": [{}]},
          "mark": {"type": "text", "text": "= 1", "align": "left", "baseline": "alphabetic", "fontSize": 13, "font": "Liberation Sans", "color": "black"},
          "encoding": {"x": {"datum": 0.0832}, "y": {"datum": 0.0919}}
        }
      ]
    }
  ]
}
